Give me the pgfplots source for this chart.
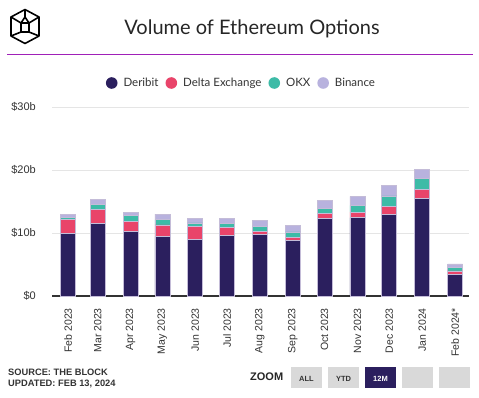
\documentclass[border=0pt]{standalone}
\usepackage{pgfplots}
\pgfplotsset{compat=1.18}
\usepackage{pgfplotstable}
\usepackage{fontspec}
\setmainfont{Liberation Sans}
\newfontfamily\titlefont{Lato}
\definecolor{deribit}{HTML}{2B1F5E}
\definecolor{delta}{HTML}{E9446A}
\definecolor{okx}{HTML}{3DBBA7}
\definecolor{binance}{HTML}{B8B2DE}
\definecolor{barline}{HTML}{C4BCD8}
\definecolor{txt}{HTML}{333333}
\definecolor{rule}{HTML}{A020B8}
\definecolor{btn}{HTML}{D9D9D9}

\pgfplotstableread{
x    D      DE    O     B
0    9.95   2.25  0.25  0.55
28   11.5   2.3   0.7   0.85
59   10.25  1.6   0.9   0.55
89   9.47   1.83  0.8   0.9
120  9.0    2.06  0.54  0.7
150  9.57   1.28  0.65  0.8
181  9.73   0.54  0.79  0.94
212  8.78   0.52  0.86  1.04
242  12.33  0.77  0.8   1.3
273  12.43  0.87  1.1   1.4
303  12.97  1.27  1.66  1.7
334  15.5   1.4   1.8   1.4
365  3.44   0.56  0.55  0.53
}\ethdata

\begin{document}
\begin{tikzpicture}[x=1pt,y=1pt]
\path[use as bounding box] (0,0) rectangle (479,-398);
% logo
\begin{scope}[line width=1.6pt, line join=round]
\draw (25,-9.5) -- (39,-17) -- (39,-36) -- (25,-43.5) -- (11,-36) -- (11,-17) -- cycle;
\draw (21,-23) rectangle (29,-32);
\draw (11,-17) -- (21,-23);
\draw (39,-17) -- (29,-23);
\draw (11,-36) -- (21,-32);
\draw (39,-36) -- (29,-32);
\draw (25,-9.5) -- (25,-17) -- (21,-23);
\draw (25,-17) -- (29,-23);
\end{scope}
% title
\node[font=\titlefont\fontsize{20}{24}\selectfont, text=black!85] at (252,-29) {Volume of Ethereum Options};
\draw[rule, line width=1pt] (7,-55) -- (473,-55);

\begin{axis}[
  at={(52pt,-296pt)}, anchor=south west,
  scale only axis, width=417pt, height=189pt,
  xmin=-15.1, xmax=378.2, ymin=0, ymax=30,
  ybar stacked, bar width=15pt,
  axis x line*=bottom, axis y line*=left,
  x axis line style={draw=txt, line width=1.2pt},
  y axis line style={draw=none},
  major tick length=0pt,
  ytick={0,10,20,30},
  yticklabels={\$0,\$10b,\$20b,\$30b},
  ymajorgrids, grid style={draw=black!10, line width=0.6pt},
  xtick={0,28,59,89,120,150,181,212,242,273,303,334,365},
  xticklabels={Feb 2023,Mar 2023,Apr 2023,May 2023,Jun 2023,Jul 2023,Aug 2023,Sep 2023,Oct 2023,Nov 2023,Dec 2023,Jan 2024,Feb 2024*},
  /pgf/number format/assume math mode=true,
  xticklabel style={rotate=90, anchor=east, inner sep=0pt, font=\fontsize{10.5}{12}\selectfont, text=txt},
  xticklabel shift=12pt,
  yticklabel style={anchor=east, inner sep=0pt, font=\fontsize{11}{13}\selectfont, text=txt},
  yticklabel shift=16pt,
  legend columns=4,
  legend style={at={(0.4544,1.127)}, anchor=center, draw=none, fill=none,
    font=\titlefont\fontsize{11.5}{13}\selectfont, text=txt,
    /tikz/every odd column/.append style={column sep=4pt},
    /tikz/every even column/.append style={column sep=5pt}},
  legend image code/.code={\fill[#1, draw=none] (0pt,0pt) circle (5.8pt);},
  every axis plot/.append style={draw=barline, line width=0.6pt},
]
\addplot[fill=deribit] table[x=x,y=D] {\ethdata};
\addplot[fill=delta] table[x=x,y=DE] {\ethdata};
\addplot[fill=okx] table[x=x,y=O] {\ethdata};
\addplot[fill=binance] table[x=x,y=B] {\ethdata};
\legend{Deribit,Delta Exchange,OKX,Binance}
\end{axis}

% footer
\node[anchor=west, font=\bfseries\fontsize{9.3}{11}\selectfont, text=txt, inner sep=0pt] at (8,-372) {SOURCE: THE BLOCK};
\node[anchor=west, font=\bfseries\fontsize{9.3}{11}\selectfont, text=txt, inner sep=0pt] at (8,-383.5) {UPDATED: FEB 13, 2024};
\node[anchor=west, font=\bfseries\fontsize{11}{13}\selectfont, text=black!85, inner sep=0pt] at (250,-377) {ZOOM};
\fill[btn] (291,-367) rectangle (322,-388);
\node[font=\bfseries\fontsize{7.5}{9}\selectfont, text=txt] at (306.5,-378.5) {ALL};
\fill[btn] (328,-367) rectangle (359,-388);
\node[font=\bfseries\fontsize{7.5}{9}\selectfont, text=txt] at (343.5,-378.5) {YTD};
\fill[deribit] (365,-367) rectangle (396,-388);
\node[font=\bfseries\fontsize{7.5}{9}\selectfont, text=white] at (380.5,-378.5) {12M};
\fill[btn] (402,-367) rectangle (433,-388);
\fill[btn] (439,-367) rectangle (470,-388);
\end{tikzpicture}
\end{document}
